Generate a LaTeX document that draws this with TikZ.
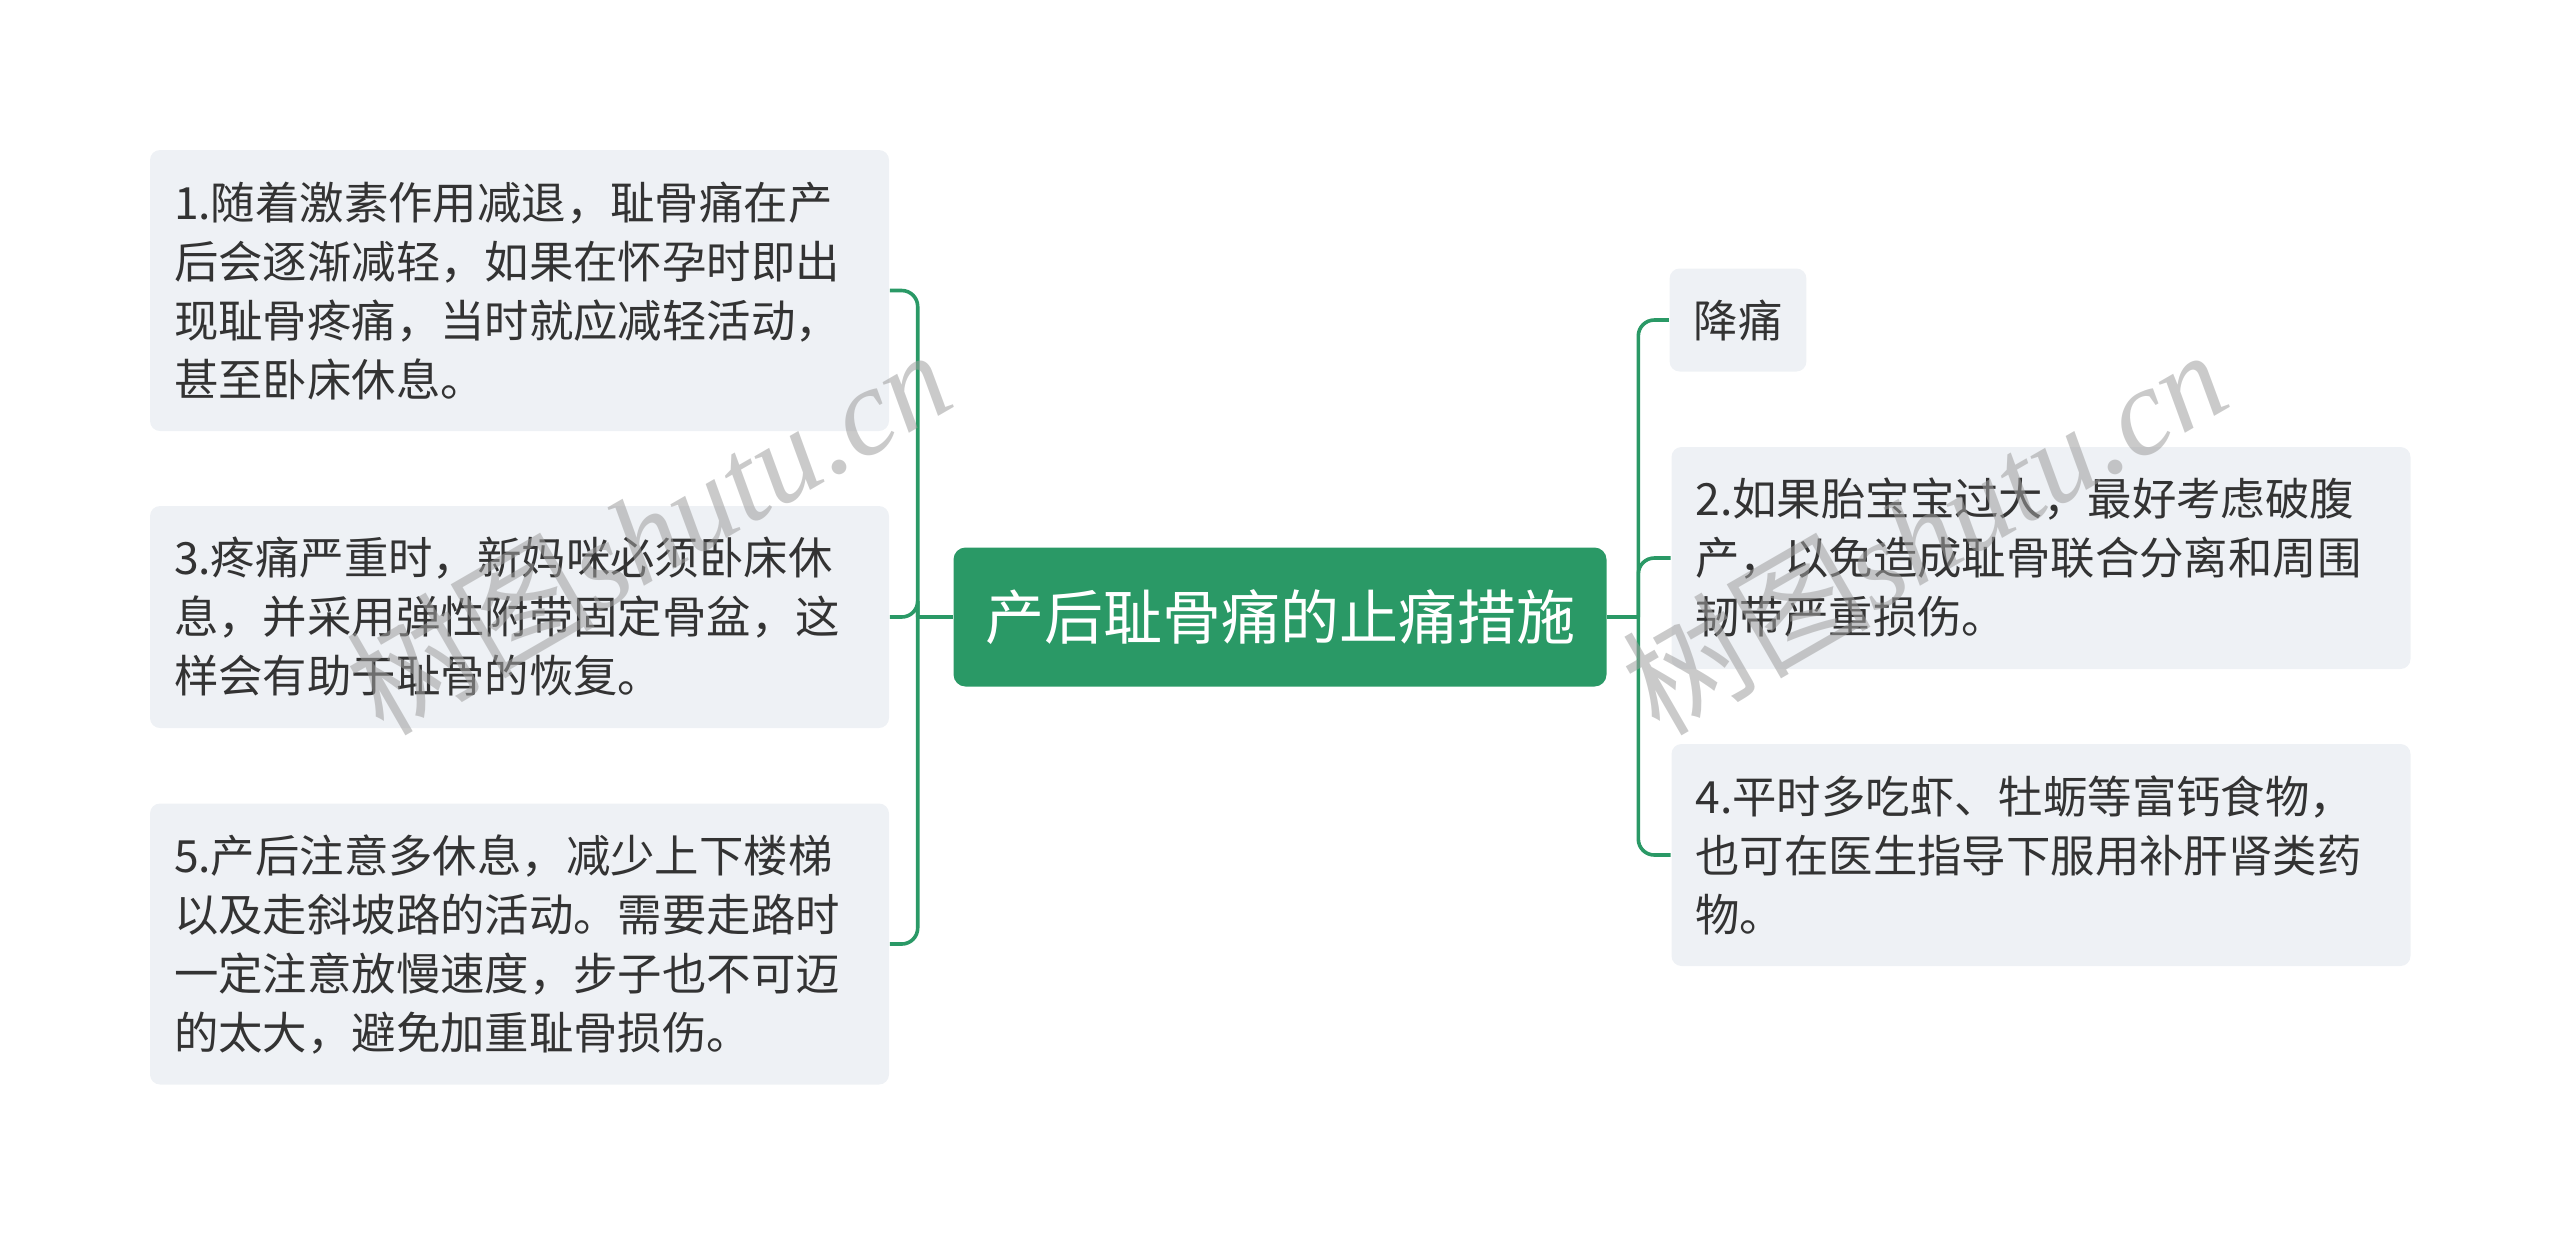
\documentclass[tikz,border=0pt]{standalone}
\usepackage{fontspec}
\setmainfont{Noto Sans CJK SC}
\newfontfamily\wmfont{Liberation Serif}
\usetikzlibrary{calc}
\definecolor{mapgreen}{HTML}{2A9966}
\definecolor{leafgray}{HTML}{EEF1F5}
\definecolor{inkgray}{HTML}{333333}

\begin{document}
\begin{tikzpicture}[x=0.25pt,y=-0.25pt,
    every node/.style={inner sep=0pt},
    root/.style={fill=mapgreen, rounded corners=3pt, text=white, minimum width=163.25pt, minimum height=34.75pt, font=\fontsize{14.75pt}{18pt}\selectfont},
    leaf/.style={fill=leafgray, rounded corners=2.5pt, text=inkgray, inner xsep=6pt, align=left, font=\fontsize{11.1pt}{14.75pt}\selectfont},
    wide/.style={text width=172.75pt},
    link/.style={draw=mapgreen, line width=0.9pt},
    wm/.style={text=gray!75, text opacity=0.55, font=\fontsize{31pt}{31pt}\selectfont}]
\useasboundingbox (0,0) rectangle (2560,1235);

% centre
\node[root] (root) at (1280,617) {产后耻骨痛的止痛措施};

% left side
\node[leaf, wide, minimum height=70.25pt] (b1) at (519.5,290.5) {1.随着激素作用减退，耻骨痛在产\\后会逐渐减轻，如果在怀孕时即出\\现耻骨疼痛，当时就应减轻活动，\\甚至卧床休息。};
\node[leaf, wide, minimum height=55.5pt] (b3) at (519.5,617) {3.疼痛严重时，新妈咪必须卧床休\\息，并采用弹性附带固定骨盆，这\\样会有助于耻骨的恢复。};
\node[leaf, wide, minimum height=70.25pt] (b5) at (519.5,944) {5.产后注意多休息，减少上下楼梯\\以及走斜坡路的活动。需要走路时\\一定注意放慢速度，步子也不可迈\\的太大，避免加重耻骨损伤。};

% right side
\node[leaf, minimum width=33pt, minimum height=25.75pt] (jt) at (1738,320) {降痛};
\node[leaf, wide, minimum height=55.5pt] (b2) at (2041,558) {2.如果胎宝宝过大，最好考虑破腹\\产，以免造成耻骨联合分离和周围\\韧带严重损伤。};
\node[leaf, wide, minimum height=55.5pt] (b4) at (2041,855) {4.平时多吃虾、牡蛎等富钙食物，\\也可在医生指导下服用补肝肾类药\\物。};

% connectors
\coordinate (lj) at ($(root.west)+(-35,0)$);
\coordinate (rj) at ($(root.east)+(31,0)$);
\draw[link] (root.west) -- (lj);
\draw[link] (root.east) -- (rj);
\foreach \n in {b1,b3,b5}
    \draw[link, rounded corners=4pt] (lj) |- (\n.east);
\foreach \n in {jt,b2,b4}
    \draw[link, rounded corners=4pt] (rj) |- (\n.west);

% watermark
\node[wm, rotate=30] (wmL) at (648,530) {树图{\wmfont\itshape shutu.cn}};
\node[wm, rotate=30] (wmR) at (1924,530) {树图{\wmfont\itshape shutu.cn}};

\end{tikzpicture}
\end{document}
